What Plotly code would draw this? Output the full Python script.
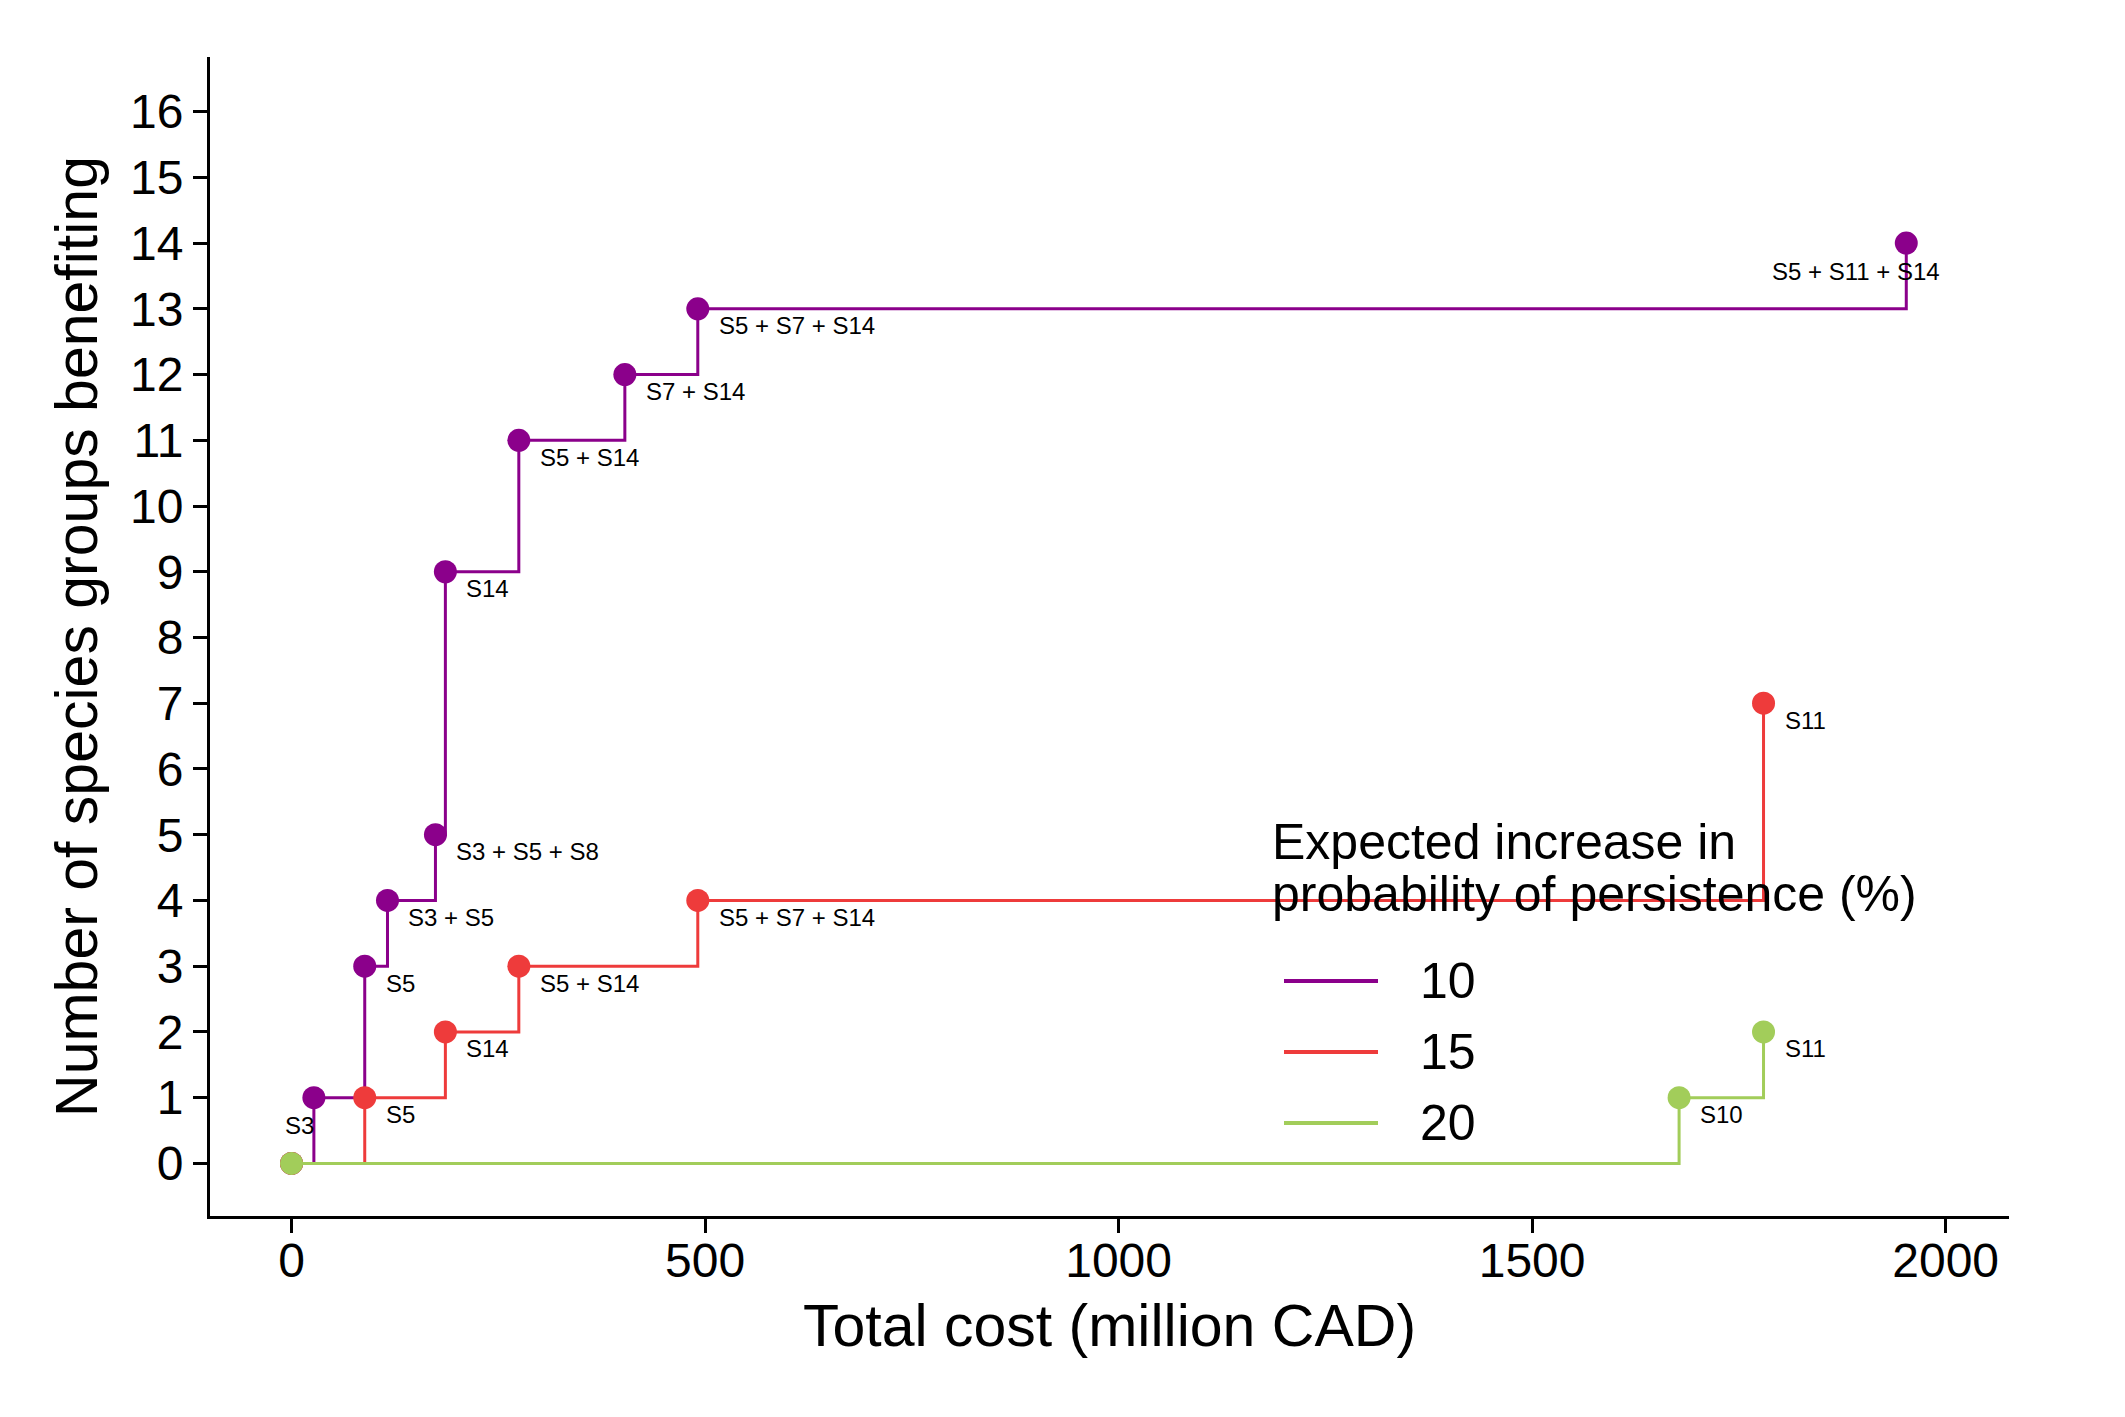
import plotly.graph_objects as go

# ---- data ----
series_names = ["10", "15", "20"]
series_colors = ["#8B008B", "#EE3B3B", "#A2CD5A"]

cost_10 = [0, 27, 88.5, 116, 174, 186, 274.8, 403, 491.2, 1952.4]
groups_10 = [0, 1, 3, 4, 5, 9, 11, 12, 13, 14]
labels_10 = ["", "S3", "S5", "S3 + S5", "S3 + S5 + S8", "S14", "S5 + S14",
             "S7 + S14", "S5 + S7 + S14", "S5 + S11 + S14"]

cost_15 = [0, 88.5, 186, 274.8, 491.2, 1779.8]
groups_15 = [0, 1, 2, 3, 4, 7]
labels_15 = ["", "S5", "S14", "S5 + S14", "S5 + S7 + S14", "S11"]

cost_20 = [0, 1677.7, 1779.8]
groups_20 = [0, 1, 2]
labels_20 = ["", "S10", "S11"]

x_ticks = [0, 500, 1000, 1500, 2000]
y_ticks = list(range(0, 17))

legend_title = ["Expected increase in", "probability of persistence (%)"]

FONT = "Liberation Sans, Arial, sans-serif"

fig = go.Figure()
all_series = [(cost_10, groups_10, labels_10), (cost_15, groups_15, labels_15),
              (cost_20, groups_20, labels_20)]

for (xs, ys, labs), name, col in zip(all_series, series_names, series_colors):
    fig.add_trace(go.Scatter(
        x=xs, y=ys, mode="lines+markers", name=name, line_shape="hv",
        line=dict(color=col, width=3),
        marker=dict(color=col, size=23, line=dict(width=0)),
        showlegend=False, hoverinfo="x+y"))

# point labels
special = {"S3": dict(xanchor="right", xshift=2, yshift=-28),
           "S5 + S11 + S14": dict(xanchor="center", xshift=-50, yshift=-28)}
for xs, ys, labs in all_series:
    for xv, yv, lab in zip(xs, ys, labs):
        if not lab:
            continue
        opts = dict(xanchor="left", xshift=19, yshift=-17)
        if lab in special and (yv in (1, 14)) and xs is cost_10:
            opts = special[lab]
        fig.add_annotation(x=xv, y=yv, text=lab, showarrow=False,
                           yanchor="middle", font=dict(size=24, color="black", family=FONT),
                           **opts)

# custom legend (paper coords derived from pixel layout)
L, R, T, B = 210, 2009, 57, 1216
def px(xp):
    return (xp - L) / (R - L)
def py(yp):
    return (B - yp) / (B - T)

fig.add_annotation(xref="paper", yref="paper", x=px(1270), y=py(842), text=legend_title[0],
                   showarrow=False, xanchor="left", yanchor="middle",
                   font=dict(size=50, color="black", family=FONT))
fig.add_annotation(xref="paper", yref="paper", x=px(1270), y=py(894), text=legend_title[1],
                   showarrow=False, xanchor="left", yanchor="middle",
                   font=dict(size=50, color="black", family=FONT))
for i, (name, col) in enumerate(zip(series_names, series_colors)):
    yc = 981 + i * 71
    fig.add_shape(type="line", xref="paper", yref="paper", x0=px(1284), x1=px(1378),
                  y0=py(yc), y1=py(yc), line=dict(color=col, width=4))
    fig.add_annotation(xref="paper", yref="paper", x=px(1418), y=py(yc), text=name,
                       showarrow=False, xanchor="left", yanchor="middle",
                       font=dict(size=50, color="black", family=FONT))

fig.update_layout(
    width=2125, height=1417,
    margin=dict(l=L, r=2125 - R, t=T, b=1417 - B),
    paper_bgcolor="white", plot_bgcolor="white",
    font=dict(family=FONT, color="black"),
    showlegend=False,
)
fig.update_xaxes(
    range=[-98.6, 2076.6], tickvals=x_ticks, ticktext=[str(v) for v in x_ticks],
    showgrid=False, zeroline=False, showline=True, linecolor="black", linewidth=3,
    ticks="outside", ticklen=14, tickwidth=3, tickcolor="black",
    tickfont=dict(size=48, color="black", family=FONT), ticklabelstandoff=-14,
    title=dict(text="Total cost (million CAD)", font=dict(size=59, color="black", family=FONT),
               standoff=20),
)
fig.update_yaxes(
    range=[-0.80, 16.83], tickvals=y_ticks, ticktext=[str(v) for v in y_ticks],
    showgrid=False, zeroline=False, showline=True, linecolor="black", linewidth=3,
    ticks="outside", ticklen=14, tickwidth=3, tickcolor="black",
    tickfont=dict(size=48, color="black", family=FONT),
    title=dict(text="Number of species groups benefiting",
               font=dict(size=59, color="black", family=FONT), standoff=14),
)

fig.write_html("out.html")
